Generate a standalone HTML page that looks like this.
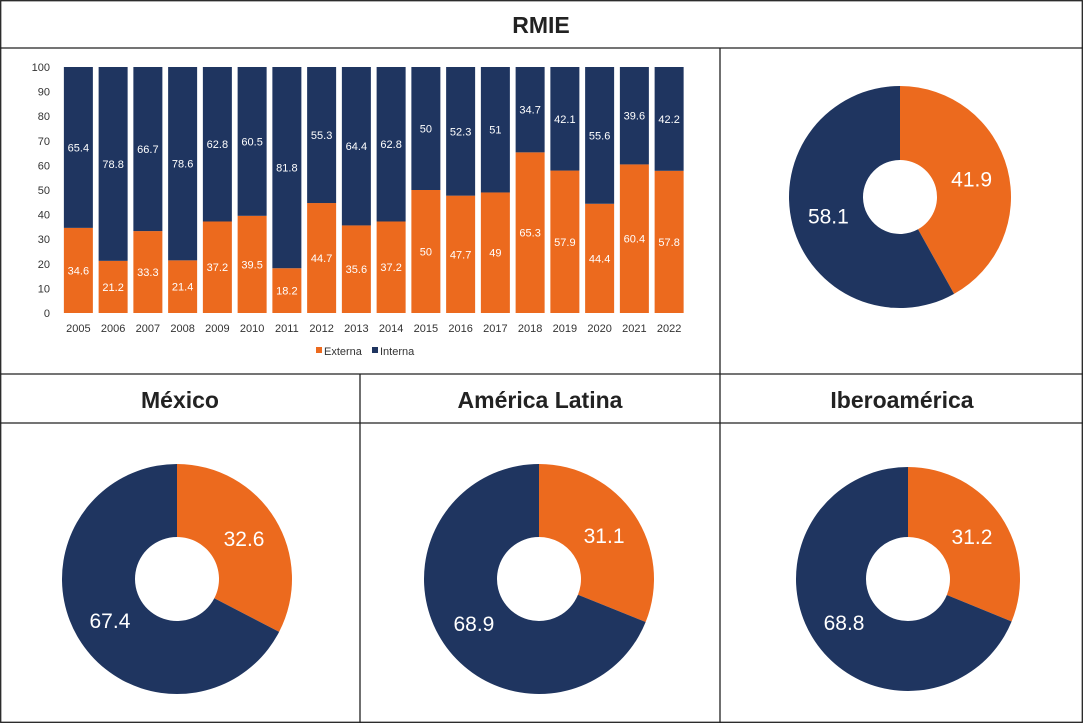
<!DOCTYPE html>
<html><head><meta charset="utf-8"><style>
body{margin:0;background:#fff;font-family:"Liberation Sans",sans-serif;}
#wrap{position:relative;width:1083px;height:723px;overflow:hidden;}
svg{position:absolute;left:0;top:0;}
</style></head><body>
<div id="wrap">
<svg id="s" width="1083" height="723">
<g stroke="#222" stroke-width="1.3" fill="none">
<rect x="0.7" y="0.7" width="1081.6" height="721.6"/>
<line x1="0" y1="48" x2="1083" y2="48"/>
<line x1="720" y1="48" x2="720" y2="374"/>
<line x1="0" y1="374" x2="1083" y2="374"/>
<line x1="0" y1="423" x2="1083" y2="423"/>
<line x1="360" y1="374" x2="360" y2="723"/>
<line x1="720" y1="374" x2="720" y2="723"/>
</g>
<g font-weight="bold" font-size="23" fill="#222" text-anchor="middle">
<text x="541" y="33">RMIE</text>
<text x="180" y="408">México</text>
<text x="540" y="408">América Latina</text>
<text x="902" y="408">Iberoamérica</text>
</g>
<g id="bars"></g>
<g id="donuts"></g>
</svg>
</div>
<script>
const years=["2005","2006","2007","2008","2009","2010","2011","2012","2013","2014","2015","2016","2017","2018","2019","2020","2021","2022"];
const externa=[34.6,21.2,33.3,21.4,37.2,39.5,18.2,44.7,35.6,37.2,50,47.7,49,65.3,57.9,44.4,60.4,57.8];
const interna=[65.4,78.8,66.7,78.6,62.8,60.5,81.8,55.3,64.4,62.8,50,52.3,51,34.7,42.1,55.6,39.6,42.2];
const yTicks=[0,10,20,30,40,50,60,70,80,90,100];
const donutNames=["RMIE","México","América Latina","Iberoamérica"];
const donutExterna=[41.9,32.6,31.1,31.2];
const donutInterna=[58.1,67.4,68.9,68.8];
const OR="#EC6A1E",NV="#1F3560",NS="http://www.w3.org/2000/svg";
function mk(t,a,p,txt){const e=document.createElementNS(NS,t);for(const k in a)e.setAttribute(k,a[k]);if(txt!==undefined)e.textContent=txt;p.appendChild(e);return e;}
const g=document.getElementById('bars');
const y0=313,y1=67,xL=61,band=34.75,bw=29;
const ys=v=>y0-(y0-y1)*v/100;
const xs=i=>xL+band*i+(band-bw)/2;
yTicks.forEach(t=>{const e=mk('text',{x:50,y:ys(t)+4,'font-size':11,fill:'#333','text-anchor':'end'},g,String(t));

});
years.forEach((yr,i)=>{
const x=xs(i);
const r1=mk('rect',{x:x,y:ys(externa[i]),width:bw,height:y0-ys(externa[i]),fill:OR},g);


const r2=mk('rect',{x:x,y:ys(externa[i]+interna[i]),width:bw,height:ys(externa[i])-ys(externa[i]+interna[i]),fill:NV},g);


const l1=mk('text',{x:x+bw/2,y:ys(externa[i]/2)+4,'font-size':11,fill:'#fff','text-anchor':'middle'},g,String(externa[i]));


const l2=mk('text',{x:x+bw/2,y:ys(externa[i]+interna[i]/2)+4,'font-size':11,fill:'#fff','text-anchor':'middle'},g,String(interna[i]));


const xl=mk('text',{x:x+bw/2,y:332,'font-size':11,fill:'#333','text-anchor':'middle'},g,yr);


});
const lg=mk('g',{},g);


mk('rect',{x:316,y:347,width:6,height:6,fill:OR},lg);
mk('text',{x:324,y:355,'font-size':11,fill:'#333'},lg,'Externa');
mk('rect',{x:372,y:347,width:6,height:6,fill:NV},lg);
mk('text',{x:380,y:355,'font-size':11,fill:'#333'},lg,'Interna');
// donuts
const dg=document.getElementById('donuts');
const centers=[[900,197,111,37],[177,579,115,42],[539,579,115,42],[908,579,112,42]];
function arc(cx,cy,R,r,a0,a1){
const p=(rad,a)=>[cx+rad*Math.sin(a),cy-rad*Math.cos(a)];
const lg=(a1-a0)>Math.PI?1:0;
const [x0,y0_]=p(R,a0),[x1,y1_]=p(R,a1),[x2,y2]=p(r,a1),[x3,y3]=p(r,a0);
return `M${x0},${y0_}A${R},${R} 0 ${lg} 1 ${x1},${y1_}L${x2},${y2}A${r},${r} 0 ${lg} 0 ${x3},${y3}Z`;}
donutNames.forEach((n,i)=>{
const [cx,cy,R,r]=centers[i];
const tot=donutExterna[i]+donutInterna[i];
const aE=2*Math.PI*donutExterna[i]/tot;
const grp=mk('g',{},dg);


const s1=mk('path',{d:arc(cx,cy,R,r,0,aE),fill:OR},grp);


const s2=mk('path',{d:arc(cx,cy,R,r,aE,2*Math.PI-1e-6),fill:NV},grp);


const lr=(R+r)/2;
[[aE/2,donutExterna[i]],[aE+(2*Math.PI-aE)/2,donutInterna[i]]].forEach(([a,v])=>{
const t=mk('text',{x:cx+lr*Math.sin(a),y:cy-lr*Math.cos(a)+8,'font-size':21,fill:'#fff','text-anchor':'middle'},grp,String(v));


});
});
</script>
</body></html>
